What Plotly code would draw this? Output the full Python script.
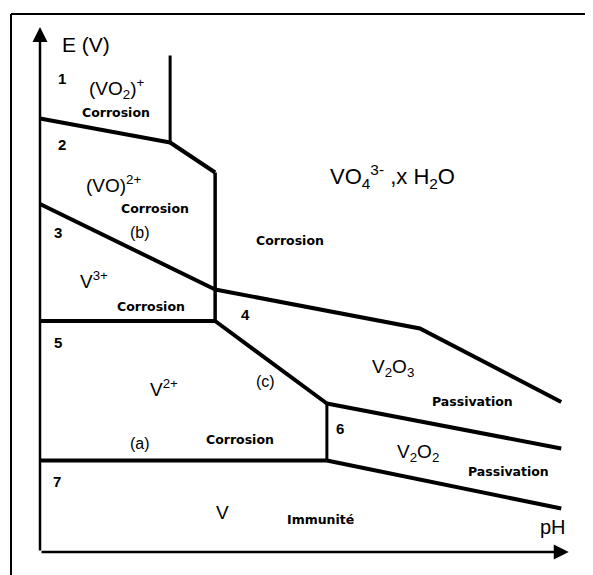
import plotly.graph_objects as go

# Schematic Pourbaix diagram of vanadium (pH, E in V) - boundary lines
b12_ph = [0, 3.47]
b12_e = [1.39, 1.23]
vo2_vert_ph = [3.47, 3.47]
vo2_vert_e = [1.23, 1.81]
b2_kink_ph = [3.47, 4.67]
b2_kink_e = [1.23, 1.03]
vert_main_ph = [4.67, 4.67]
vert_main_e = [1.03, 0.04]
line_b_ph = [0, 4.67]
line_b_e = [0.82, 0.25]
line_4_ph = [4.67, 10.13, 13.9]
line_4_e = [0.25, -0.01, -0.50]
line_35_ph = [0, 4.67]
line_35_e = [0.04, 0.04]
line_c_ph = [4.67, 7.65]
line_c_e = [0.04, -0.51]
vert_6_ph = [7.65, 7.65]
vert_6_e = [-0.51, -0.89]
line_6_ph = [7.65, 13.9]
line_6_e = [-0.51, -0.81]
line_a_ph = [0, 7.65]
line_a_e = [-0.89, -0.89]
line_7_ph = [7.65, 13.9]
line_7_e = [-0.89, -1.21]

segments = [
    (b12_ph, b12_e, 4),
    (vo2_vert_ph, vo2_vert_e, 3),
    (b2_kink_ph, b2_kink_e, 4),
    (vert_main_ph, vert_main_e, 3.5),
    (line_b_ph, line_b_e, 4),
    (line_4_ph, line_4_e, 4),
    (line_35_ph, line_35_e, 4),
    (line_c_ph, line_c_e, 4),
    (vert_6_ph, vert_6_e, 3),
    (line_6_ph, line_6_e, 4),
    (line_a_ph, line_a_e, 4),
    (line_7_ph, line_7_e, 4),
]

OFF = 8  # page body margin
W, H = 593 - OFF, 575 - OFF
fig = go.Figure()
for xs, ys, w in segments:
    fig.add_trace(go.Scatter(x=xs, y=ys, mode="lines",
                             line=dict(color="black", width=w),
                             hoverinfo="skip", showlegend=False))

def P(px, py):
    return (px - OFF) / W, 1 - (py - OFF) / H

FONT = "Arial, Liberation Sans, sans-serif"
SMALL = "DejaVu Sans, sans-serif"
anns = []
def txt(s, px, py, size, bold=False, family=FONT):
    x, y = P(px, py)
    if bold:
        s = "<b>" + s + "</b>"
    anns.append(dict(text=s, x=x, y=y, xref="paper", yref="paper",
                     showarrow=False, xanchor="center", yanchor="middle",
                     font=dict(family=family, size=size, color="black")))

def small(s, px, py):
    txt(s, px, py, 12.5, True, SMALL)

txt("E (V)", 86, 44, 21)
txt("1", 62, 78, 15, True)
txt("(VO<sub>2</sub>)<sup>+</sup>", 117, 89, 19)
small("Corrosion", 116, 113)
txt("2", 62, 145, 15, True)
txt("(VO)<sup>2+</sup>", 114, 184, 19)
small("Corrosion", 155, 209)
txt("3", 58, 232, 15, True)
txt("(b)", 140, 232, 16)
txt("V<sup>3+</sup>", 94, 280, 19)
small("Corrosion", 151, 306)
txt("4", 245, 314, 15, True)
small("Corrosion", 290, 241)
txt("VO<sub>4</sub><sup>3-</sup> ,x H<sub>2</sub>O", 392, 176, 22)
txt("5", 58, 342, 15, True)
txt("V<sup>2+</sup>", 164, 388, 19)
txt("(c)", 265, 381, 16)
txt("(a)", 140, 443, 16)
small("Corrosion", 240, 439)
txt("7", 57, 481, 15, True)
txt("V", 222, 512, 19)
small("Immunité", 320, 519)
txt("V<sub>2</sub>O<sub>3</sub>", 393, 368, 19)
small("Passivation", 472, 401)
txt("6", 340, 428, 15, True)
txt("V<sub>2</sub>O<sub>2</sub>", 418, 453, 19)
small("Passivation", 508, 471)
txt("pH", 553, 527, 20)

# axes arrows (data coordinates)
anns.append(dict(x=14.1, y=-1.5, ax=0, ay=-1.5, xref="x", yref="y",
                 axref="x", ayref="y", text="", showarrow=True,
                 arrowhead=2, arrowsize=1.2, arrowwidth=2.5, arrowcolor="black"))
anns.append(dict(x=0, y=2.0, ax=0, ay=-1.5, xref="x", yref="y",
                 axref="x", ayref="y", text="", showarrow=True,
                 arrowhead=2, arrowsize=1.2, arrowwidth=2.5, arrowcolor="black"))

fx0, fy0 = P(11, 14)
shapes = [
    dict(type="line", xref="paper", yref="paper", x0=fx0, x1=1, y0=fy0, y1=fy0,
         line=dict(color="black", width=2)),
    dict(type="line", xref="paper", yref="paper", x0=fx0, x1=fx0, y0=0, y1=fy0,
         line=dict(color="black", width=2)),
]

fig.update_layout(
    width=W, height=H,
    margin=dict(l=0, r=0, t=0, b=0),
    paper_bgcolor="white", plot_bgcolor="white",
    xaxis=dict(range=[(OFF - 40) / 37.5, (593 - 40) / 37.5], visible=False, fixedrange=True),
    yaxis=dict(range=[-1.5 + (552 - 575) / 150, -1.5 + (552 - OFF) / 150],
               visible=False, fixedrange=True),
    annotations=anns, shapes=shapes, showlegend=False,
)
fig.write_html("out.html", config={"displayModeBar": False})
